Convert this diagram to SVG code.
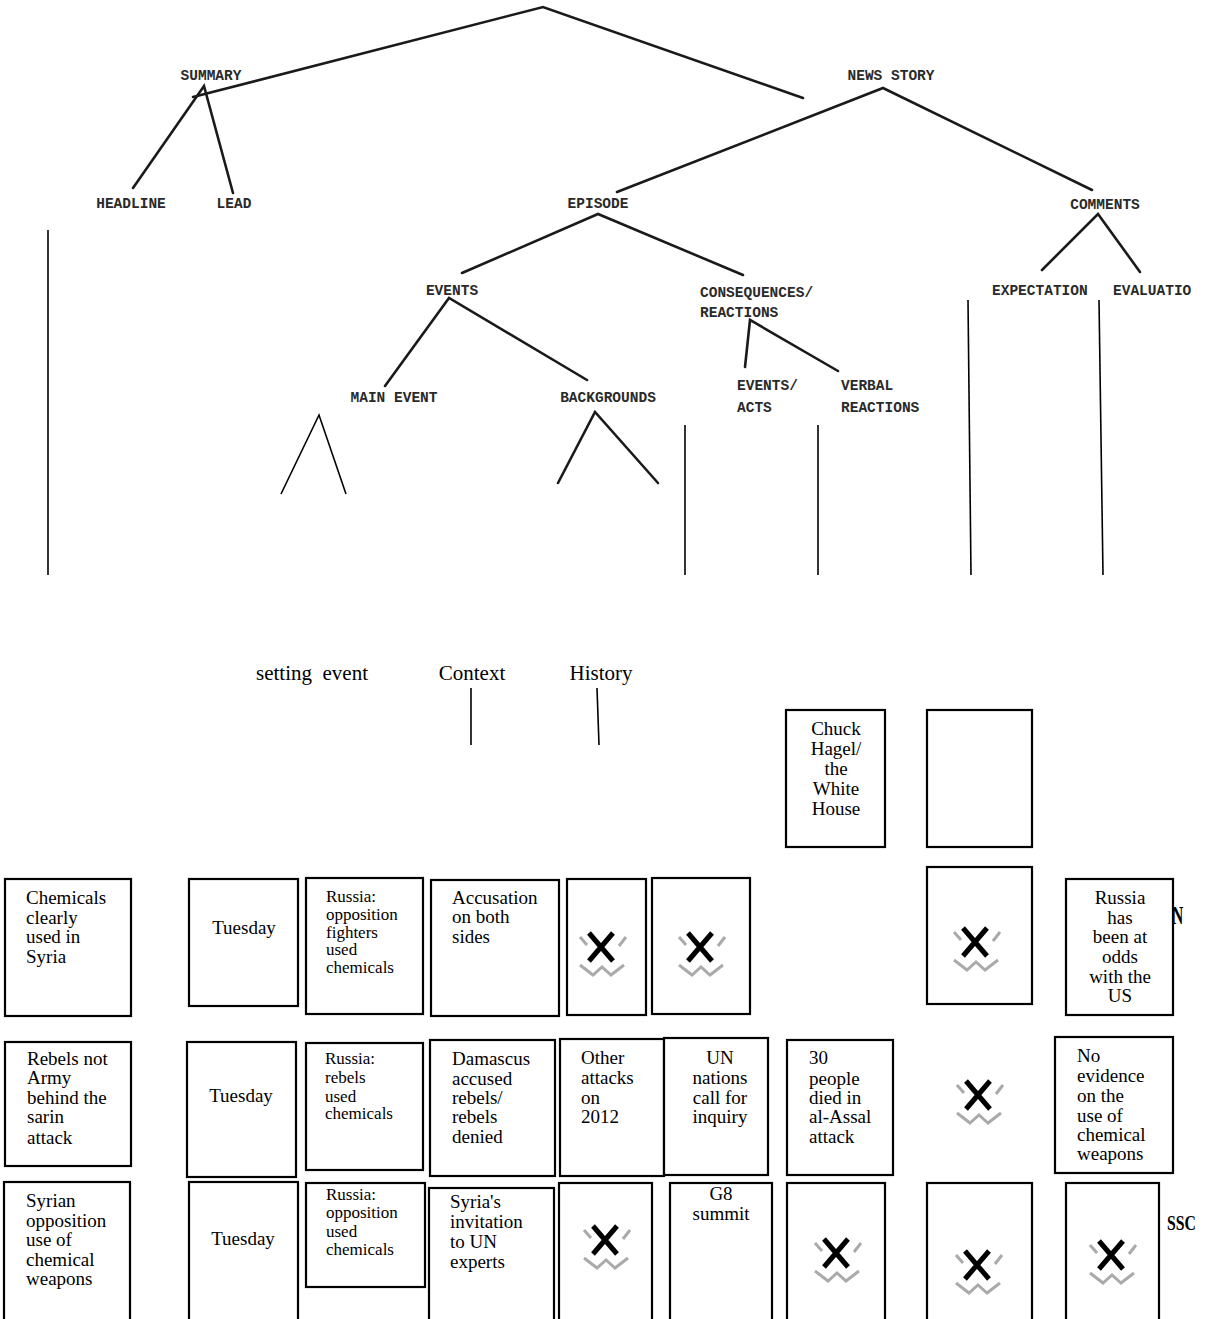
<svg xmlns="http://www.w3.org/2000/svg" width="1207" height="1319" viewBox="0 0 1207 1319">
<style>
.tw{font-family:"Liberation Mono","DejaVu Sans Mono",monospace;font-size:14.5px;font-weight:bold;fill:#2a2a2a}
.tr{stroke:#1a1a1a;stroke-width:2.6;fill:none;stroke-linecap:round}
.ln{stroke:#000;stroke-width:1.6;fill:none}
.bx{fill:#fff;stroke:#000;stroke-width:2.2}
.t{font-family:"Liberation Serif","Times New Roman",serif;font-size:19px;fill:#000}
.s{font-family:"Liberation Serif","Times New Roman",serif;font-size:17px;fill:#000}
.c{text-anchor:middle}
.lab{font-family:"Liberation Serif","Times New Roman",serif;font-size:21px;fill:#000}
.bd{font-family:"Liberation Serif","Times New Roman",serif;font-weight:bold;fill:#000}
</style>
<defs>
<g id="xicon">
<path d="M-21,-10 L-14,-2 M25,-10 L18,-1 M-21,18 L-8,28 L1,20 L10,28 L23,18" stroke="#aaa" stroke-width="3" fill="none"/>
<path d="M-12,-14 L12,14 M12,-14 L-12,14" stroke="#000" stroke-width="5" fill="none"/>
</g>
</defs>
<rect width="1207" height="1319" fill="#fff"/>

<g id="connectors">
<polyline class="tr" points="193,97 543,7 803,98"/>
<polyline class="tr" points="133,188 204,86 233,193"/>
<polyline class="tr" points="617,192 883,88 1092,190"/>
<polyline class="tr" points="462,273 598,214 743,275"/>
<polyline class="tr" points="1042,270 1098,214 1140,272"/>
<polyline class="tr" points="385,386 449,298 587,380"/>
<polyline class="tr" points="745,367 750,320 838,371"/>
<polyline class="tr" points="558,483 595,412 658,483"/>
<line class="ln" x1="48" y1="230" x2="48" y2="575"/>
<polyline class="ln" points="281,494 319,415 346,494"/>
<line class="ln" x1="685" y1="425" x2="685" y2="575"/>
<line class="ln" x1="818" y1="425" x2="818" y2="575"/>
<line class="ln" x1="968" y1="300" x2="971" y2="575"/>
<line class="ln" x1="1099" y1="300" x2="1103" y2="575"/>
<line class="ln" x1="471" y1="688" x2="471" y2="745"/>
<line class="ln" x1="597" y1="688" x2="599" y2="745"/>
</g>

<g id="tree-labels">
<g id="n-summary"><text class="tw c" x="211" y="80">SUMMARY</text></g>
<g id="n-headline"><text class="tw c" x="131" y="208">HEADLINE</text></g>
<g id="n-lead"><text class="tw c" x="234" y="208">LEAD</text></g>
<g id="n-newsstory"><text class="tw c" x="891" y="80">NEWS STORY</text></g>
<g id="n-episode"><text class="tw c" x="598" y="208">EPISODE</text></g>
<g id="n-comments"><text class="tw c" x="1105" y="209">COMMENTS</text></g>
<g id="n-events"><text class="tw c" x="452" y="295">EVENTS</text></g>
<g id="n-consequences"><text class="tw" x="700" y="297">CONSEQUENCES/</text><text class="tw" x="700" y="317">REACTIONS</text></g>
<g id="n-mainevent"><text class="tw c" x="394" y="402">MAIN EVENT</text></g>
<g id="n-backgrounds"><text class="tw c" x="608" y="402">BACKGROUNDS</text></g>
<g id="n-eventsacts"><text class="tw" x="737" y="390">EVENTS/</text><text class="tw" x="737" y="412">ACTS</text></g>
<g id="n-verbal"><text class="tw" x="841" y="390">VERBAL</text><text class="tw" x="841" y="412">REACTIONS</text></g>
<g id="n-expectation"><text class="tw" x="992" y="295">EXPECTATION</text></g>
<g id="n-evaluation"><text class="tw" x="1113" y="295">EVALUATIO</text></g>
</g>

<g id="sub-labels">
<g id="n-setting"><text class="lab c" x="312" y="680" xml:space="preserve">setting  event</text></g>
<g id="n-context"><text class="lab c" x="472" y="680">Context</text></g>
<g id="n-history"><text class="lab c" x="601" y="680">History</text></g>
</g>

<g id="box-chuck"><rect class="bx" x="786" y="710" width="99" height="137"/>
<text class="t c" x="836"><tspan x="836" y="735">Chuck</tspan><tspan x="836" y="755">Hagel/</tspan><tspan x="836" y="775">the</tspan><tspan x="836" y="795">White</tspan><tspan x="836" y="815">House</tspan></text></g>
<g id="box-empty"><rect class="bx" x="927" y="710" width="105" height="137"/></g>

<g id="box-a1"><rect class="bx" x="5" y="879" width="126" height="137"/>
<text class="t"><tspan x="26" y="904">Chemicals</tspan><tspan x="26" y="924">clearly</tspan><tspan x="26" y="943">used in</tspan><tspan x="26" y="963">Syria</tspan></text></g>
<g id="box-b1"><rect class="bx" x="189" y="879" width="109" height="127"/>
<text class="t c" x="244" y="934">Tuesday</text></g>
<g id="box-c1"><rect class="bx" x="306" y="878" width="117" height="136"/>
<text class="s"><tspan x="326" y="902">Russia:</tspan><tspan x="326" y="920">opposition</tspan><tspan x="326" y="938">fighters</tspan><tspan x="326" y="955">used</tspan><tspan x="326" y="973">chemicals</tspan></text></g>
<g id="box-d1"><rect class="bx" x="431" y="880" width="128" height="136"/>
<text class="t"><tspan x="452" y="904">Accusation</tspan><tspan x="452" y="923">on both</tspan><tspan x="452" y="943">sides</tspan></text></g>
<g id="box-e1"><rect class="bx" x="567" y="879" width="79" height="136"/><use href="#xicon" x="601" y="947"/></g>
<g id="box-f1"><rect class="bx" x="652" y="878" width="98" height="136"/><use href="#xicon" x="700" y="947"/></g>
<g id="box-g1"><rect class="bx" x="927" y="867" width="105" height="137"/><use href="#xicon" x="975" y="942"/></g>
<g id="box-h1"><rect class="bx" x="1066" y="879" width="107" height="136"/>
<text class="t c"><tspan x="1120" y="904">Russia</tspan><tspan x="1120" y="924">has</tspan><tspan x="1120" y="943">been at</tspan><tspan x="1120" y="963">odds</tspan><tspan x="1120" y="983">with the</tspan><tspan x="1120" y="1002">US</tspan></text></g>
<g id="lbl-n"><text class="bd" font-size="26" transform="translate(1172,924) scale(0.6,1)">N</text></g>

<g id="box-a2"><rect class="bx" x="5" y="1042" width="126" height="124"/>
<text class="t"><tspan x="27" y="1065">Rebels not</tspan><tspan x="27" y="1084">Army</tspan><tspan x="27" y="1104">behind the</tspan><tspan x="27" y="1123">sarin</tspan><tspan x="27" y="1144">attack</tspan></text></g>
<g id="box-b2"><rect class="bx" x="187" y="1042" width="109" height="135"/>
<text class="t c" x="241" y="1102">Tuesday</text></g>
<g id="box-c2"><rect class="bx" x="306" y="1043" width="117" height="127"/>
<text class="s"><tspan x="325" y="1064">Russia:</tspan><tspan x="325" y="1083">rebels</tspan><tspan x="325" y="1102">used</tspan><tspan x="325" y="1119">chemicals</tspan></text></g>
<g id="box-d2"><rect class="bx" x="430" y="1040" width="125" height="136"/>
<text class="t"><tspan x="452" y="1065">Damascus</tspan><tspan x="452" y="1085">accused</tspan><tspan x="452" y="1104">rebels/</tspan><tspan x="452" y="1123">rebels</tspan><tspan x="452" y="1143">denied</tspan></text></g>
<g id="box-e2"><rect class="bx" x="560" y="1039" width="104" height="137"/>
<text class="t"><tspan x="581" y="1064">Other</tspan><tspan x="581" y="1084">attacks</tspan><tspan x="581" y="1104">on</tspan><tspan x="581" y="1123">2012</tspan></text></g>
<g id="box-f2"><rect class="bx" x="664" y="1038" width="104" height="137"/>
<text class="t c"><tspan x="720" y="1064">UN</tspan><tspan x="720" y="1084">nations</tspan><tspan x="720" y="1104">call for</tspan><tspan x="720" y="1123">inquiry</tspan></text></g>
<g id="box-g2"><rect class="bx" x="787" y="1040" width="106" height="135"/>
<text class="t"><tspan x="809" y="1064">30</tspan><tspan x="809" y="1085">people</tspan><tspan x="809" y="1104">died in</tspan><tspan x="809" y="1123">al-Assal</tspan><tspan x="809" y="1143">attack</tspan></text></g>
<g id="icon-r2"><use href="#xicon" x="978" y="1095"/></g>
<g id="box-h2"><rect class="bx" x="1055" y="1037" width="118" height="136"/>
<text class="t"><tspan x="1077" y="1062">No</tspan><tspan x="1077" y="1082">evidence</tspan><tspan x="1077" y="1102">on the</tspan><tspan x="1077" y="1122">use of</tspan><tspan x="1077" y="1141">chemical</tspan><tspan x="1077" y="1160">weapons</tspan></text></g>

<g id="box-a3"><rect class="bx" x="4" y="1182" width="126" height="145"/>
<text class="t"><tspan x="26" y="1207">Syrian</tspan><tspan x="26" y="1227">opposition</tspan><tspan x="26" y="1246">use of</tspan><tspan x="26" y="1266">chemical</tspan><tspan x="26" y="1285">weapons</tspan></text></g>
<g id="box-b3"><rect class="bx" x="189" y="1182" width="109" height="145"/>
<text class="t c" x="243" y="1245">Tuesday</text></g>
<g id="box-c3"><rect class="bx" x="306" y="1183" width="119" height="104"/>
<text class="s"><tspan x="326" y="1200">Russia:</tspan><tspan x="326" y="1218">opposition</tspan><tspan x="326" y="1237">used</tspan><tspan x="326" y="1255">chemicals</tspan></text></g>
<g id="box-d3"><rect class="bx" x="429" y="1188" width="125" height="140"/>
<text class="t"><tspan x="450" y="1208">Syria's</tspan><tspan x="450" y="1228">invitation</tspan><tspan x="450" y="1248">to UN</tspan><tspan x="450" y="1268">experts</tspan></text></g>
<g id="box-e3"><rect class="bx" x="559" y="1183" width="93" height="145"/><use href="#xicon" x="605" y="1240"/></g>
<g id="box-f3"><rect class="bx" x="670" y="1183" width="102" height="145"/>
<text class="t c" font-size="18"><tspan x="721" y="1200">G8</tspan><tspan x="721" y="1220">summit</tspan></text></g>
<g id="box-g3"><rect class="bx" x="787" y="1183" width="98" height="145"/><use href="#xicon" x="836" y="1253"/></g>
<g id="box-h3"><rect class="bx" x="927" y="1183" width="105" height="145"/><use href="#xicon" x="977" y="1265"/></g>
<g id="box-i3"><rect class="bx" x="1066" y="1183" width="93" height="145"/><use href="#xicon" x="1111" y="1255"/></g>
<g id="lbl-ssc"><text class="bd" font-size="21" transform="translate(1167,1230) scale(0.75,1)">SSC</text></g>
</svg>
